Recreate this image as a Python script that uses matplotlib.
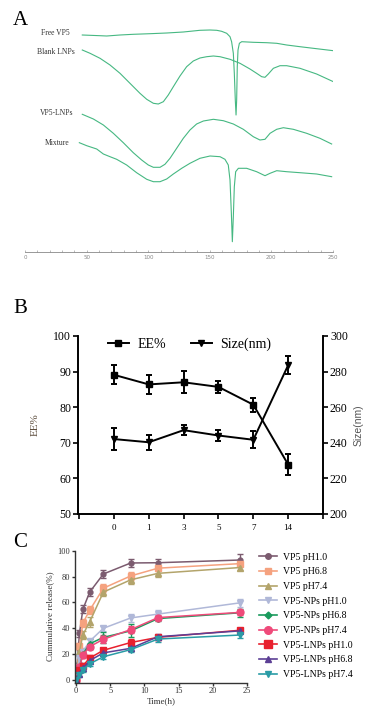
import numpy as np
import matplotlib
matplotlib.use('Agg')
import matplotlib.pyplot as plt
from matplotlib.lines import Line2D

plt.rcParams['font.family'] = ['Liberation Serif', 'DejaVu Serif']

# ---- Panel A: DSC curves (temperature, heat flow in arbitrary units) ----
free_x = [46.5, 60.9, 66.3, 77.1, 87.9, 101.5, 115.0, 128.5, 142.0, 150.2, 155.6, 159.6,
          163.7, 166.4, 167.7, 169.1, 169.9, 170.7, 171.3, 171.8, 172.3, 172.9, 174.0,
          175.9, 185.3, 196.2, 204.3, 212.4, 223.2, 236.7, 250.3]
free_y = [217.0, 216.3, 216.0, 217.0, 217.7, 218.3, 219.0, 220.0, 221.7, 222.0, 221.7, 220.7,
          218.7, 215.3, 210.3, 198.7, 178.7, 152.0, 137.0, 152.0, 185.3, 202.0, 208.7,
          210.3, 209.7, 209.3, 208.7, 207.0, 205.3, 203.3, 201.3]

blank_x = [46.5, 52.8, 60.9, 69.0, 77.1, 85.2, 93.3, 98.8, 104.2, 108.2, 112.3, 116.3,
           120.4, 125.8, 131.2, 136.6, 142.0, 147.5, 152.9, 158.3, 166.4, 174.5, 182.6,
           188.0, 192.1, 194.8, 197.5, 201.6, 207.0, 212.4, 223.2, 236.7, 250.3]
blank_y = [202.0, 198.7, 193.7, 187.0, 178.7, 168.7, 158.7, 152.7, 148.7, 148.0, 150.3, 157.0,
           165.3, 176.0, 185.3, 191.0, 194.0, 195.3, 196.0, 195.3, 192.7, 188.7, 183.0,
           178.7, 175.3, 174.7, 178.0, 183.7, 186.3, 186.3, 183.7, 178.0, 170.3]

lnp_x = [46.5, 55.5, 63.6, 71.7, 79.8, 87.9, 94.7, 100.1, 104.2, 109.6, 113.6, 117.7,
         123.1, 128.5, 133.9, 139.3, 144.8, 152.9, 161.0, 169.1, 177.2, 185.3, 190.7,
         194.8, 198.9, 204.3, 209.7, 217.8, 228.6, 239.4, 248.9]
lnp_y = [137.7, 133.0, 127.0, 118.7, 109.3, 99.3, 92.0, 87.0, 84.7, 84.7, 87.7, 93.7,
         103.7, 113.7, 122.0, 128.0, 131.0, 132.7, 131.3, 128.0, 122.7, 115.3, 112.0,
         112.7, 118.7, 122.7, 124.3, 122.7, 118.7, 113.7, 108.0]

mix_x = [44.1, 50.1, 58.2, 63.6, 69.0, 74.4, 82.5, 90.6, 98.8, 104.2, 109.6, 115.0,
         120.4, 127.2, 133.9, 142.0, 150.2, 158.3, 162.3, 165.0, 166.4, 167.5, 168.3,
         169.1, 169.9, 171.0, 173.2, 179.9, 188.0, 194.8, 198.9, 204.3, 212.4, 223.2,
         236.7, 248.9]
mix_y = [109.3, 106.3, 103.0, 98.0, 95.3, 92.7, 87.0, 79.3, 72.7, 70.3, 70.3, 73.0,
         78.0, 83.7, 88.7, 93.7, 96.0, 95.3, 92.7, 87.0, 72.0, 38.7, 10.3,
         35.3, 65.3, 80.3, 83.7, 83.7, 80.3, 76.3, 78.7, 81.3, 80.3, 79.3,
         78.0, 75.3]

dsc_names = ['Free VP5', 'Blank LNPs', 'VP5-LNPs', 'Mixture']

# ---- Panel B: stability ----
days = ['0', '1', '3', '5', '7', '14']
ee = [89.1, 86.4, 87.0, 85.7, 80.7, 63.9]
ee_err = [2.7, 2.7, 3.1, 1.8, 2.0, 3.0]
size_nm = [242.1, 240.3, 247.1, 244.1, 241.7, 283.6]
size_err = [6.0, 4.2, 2.7, 3.3, 4.8, 5.1]

# ---- Panel C: release ----
t = [0, 0.5, 1, 2, 4, 8, 12, 24]
rel_names = ['VP5 pH1.0', 'VP5 pH6.8', 'VP5 pH7.4',
             'VP5-NPs pH1.0', 'VP5-NPs pH6.8', 'VP5-NPs pH7.4',
             'VP5-LNPs pH1.0', 'VP5-LNPs pH6.8', 'VP5-LNPs pH7.4']
rel_vals = [
    [0, 36, 54.7, 68, 82, 90.5, 90.7, 92.8],
    [0, 26, 44, 54, 71, 80.5, 86.5, 90],
    [0, 22, 35, 45, 68, 77.5, 82.5, 87],
    [0, 17, 22, 30, 40, 48, 51, 59.7],
    [0, 10, 20, 28, 33, 38, 47.5, 52],
    [0, 10, 19.3, 25.8, 31.5, 39, 48.3, 52.3],
    [0, 8, 11, 17, 23, 29, 33, 38.5],
    [0, 5, 9, 15, 21, 24.5, 33.5, 38],
    [0, 4, 8, 12.5, 18, 23.5, 31.7, 34.8],
]
rel_errs = [
    [0, 3, 3, 3, 3, 3, 3, 5],
    [0, 3, 3, 3, 3, 3, 2, 2],
    [0, 3, 3, 4, 3, 3, 3, 2],
    [0, 3, 3, 2, 2, 3, 3, 3],
    [0, 3, 2, 4, 4, 5, 2, 3],
    [0, 3, 2, 2, 3, 3, 2, 2],
    [0, 2, 2, 2, 2, 3, 2, 2],
    [0, 2, 2, 2, 2, 2, 2, 2],
    [0, 2, 2, 2, 2, 2, 2, 2],
]
rel_colors = ['#7b5b6f', '#f5a27f', '#b3a46b', '#b0b8d8', '#1a9a5c',
              '#ef4a7a', '#e8202e', '#5c3f95', '#2a9ca6']
rel_markers = ['o', 's', '^', 'v', 'D', 'o', 's', '^', 'v']
rel_msize = [3.5, 4, 4, 4, 3, 5, 5, 4.5, 4.5]

fig = plt.figure(figsize=(3.81, 7.14), dpi=100)

# panel A
axA = fig.add_axes([25/381, 462/714, 308/381, 252/714])
green = '#46b882'
for xs, ys in [(free_x, free_y), (blank_x, blank_y), (lnp_x, lnp_y), (mix_x, mix_y)]:
    axA.plot(xs, ys, color=green, lw=0.8, solid_joinstyle='round')
label_pos = [(36.5, 219), (40.6, 200), (39, 139), (35.7, 109)]
for name, (lx, ly) in zip(dsc_names, label_pos):
    axA.text(lx, ly, name, ha='right', va='center', fontsize=5.5, color='#333333')
axA.set_xlim(0, 250)
axA.set_ylim(0, 252)
for s in ['left', 'right', 'top']:
    axA.spines[s].set_visible(False)
axA.spines['bottom'].set_color('#888888')
axA.spines['bottom'].set_linewidth(0.6)
axA.set_yticks([])
axA.set_xticks(np.arange(0, 251, 50))
axA.set_xticks(np.arange(0, 251, 10), minor=True)
axA.tick_params(axis='x', which='both', direction='in', length=1.5, width=0.4,
                colors='#888888', labelsize=4, pad=2)
for lab in axA.get_xticklabels():
    lab.set_family(['DejaVu Sans'])
fig.text(12.7/381, 689/714, 'A', fontsize=15, va='baseline')

# panel B
axB = fig.add_axes([78/381, 200/714, 245/381, 178/714])
xb = np.arange(len(days))
axB.errorbar(xb, ee, yerr=ee_err, color='black', marker='s', ms=4.5, lw=1.4,
             capsize=2.5, elinewidth=1.4, capthick=1.4)
axB2 = axB.twinx()
axB2.errorbar(xb, size_nm, yerr=size_err, color='black', marker='v', ms=4.5, lw=1.4,
              capsize=2.5, elinewidth=1.4, capthick=1.4)
axB.set_xlim(-1.03, 6.0)
axB.set_ylim(50, 100)
axB2.set_ylim(200, 300)
axB.set_xticks(np.arange(-1, 7))
axB.set_xticklabels([''] + days + [''])
axB.set_yticks(np.arange(50, 101, 10))
axB2.set_yticks(np.arange(200, 301, 20))
for a in (axB, axB2):
    a.spines['top'].set_visible(False)
    for s in ['left', 'right', 'bottom']:
        a.spines[s].set_linewidth(1.2)
    a.tick_params(width=1.2, length=3.5, labelsize=8.5, pad=1.5)
axB.tick_params(axis='x', labelsize=6.5, pad=4)
axB.set_ylabel('EE%', fontsize=8, color='#5a4a3a', labelpad=10)
axB2.set_ylabel('Size(nm)', fontsize=7.5, color='#555555', family=['Liberation Sans'],
                labelpad=4)
b_handles = [Line2D([], [], color='black', marker='s', ms=4.5, lw=1.4),
             Line2D([], [], color='black', marker='v', ms=4.5, lw=1.4)]
axB.legend(b_handles, ['EE%', 'Size(nm)'], ncol=2, loc='upper center', frameon=False,
           fontsize=10, bbox_to_anchor=(0.455, 1.06), handlelength=1.5,
           columnspacing=1.8, handletextpad=0.6)
fig.text(13/381, 400.7/714, 'B', fontsize=15, va='baseline')

# panel C
axC = fig.add_axes([75/381, 31.4/714, 172/381, 131.9/714])
for i in range(len(rel_names)):
    axC.errorbar(t, rel_vals[i], yerr=rel_errs[i], color=rel_colors[i],
                 marker=rel_markers[i], ms=rel_msize[i], lw=1.1, capsize=2,
                 elinewidth=1.0, capthick=1.0)
axC.set_xlim(-0.15, 25)
axC.set_ylim(-2, 100)
axC.set_xticks(np.arange(0, 26, 5))
axC.set_yticks(np.arange(0, 101, 20))
for s in ['top', 'right']:
    axC.spines[s].set_visible(False)
for s in ['left', 'bottom']:
    axC.spines[s].set_linewidth(1.0)
    axC.spines[s].set_color('#333333')
axC.tick_params(width=1.0, length=2.5, labelsize=6, pad=1, colors='#333333')
axC.set_xlabel('Time(h)', fontsize=6.5, color='#333333', labelpad=1)
axC.set_ylabel('Cummulative release(%)', fontsize=6.5, color='#333333', labelpad=2)
c_handles = [Line2D([], [], color=rel_colors[i], marker=rel_markers[i],
                    ms=rel_msize[i] + 0.5, lw=1.2) for i in range(len(rel_names))]
axC.legend(c_handles, rel_names, loc='upper left', bbox_to_anchor=(1.02, 1.05),
           frameon=False, fontsize=7, labelspacing=0.58, handlelength=1.8,
           handletextpad=0.6)
fig.text(13/381, 167/714, 'C', fontsize=15, va='baseline')

fig.savefig('out.png', dpi=100)
